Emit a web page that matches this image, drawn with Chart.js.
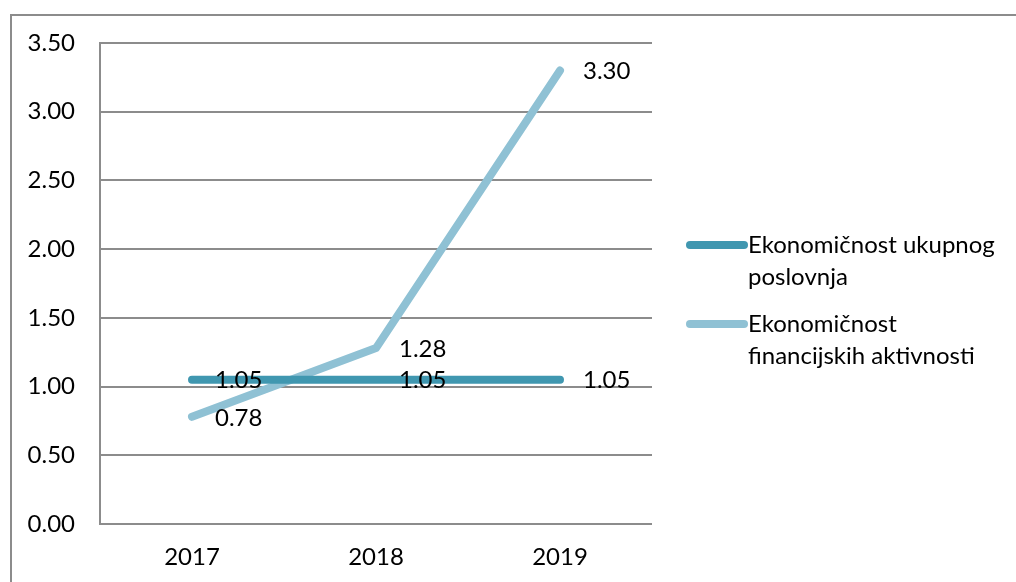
<!DOCTYPE html>
<html>
<head>
<meta charset="utf-8">
<script src="https://cdn.jsdelivr.net/npm/chart.js@4"></script>
<style>
  html, body { margin: 0; padding: 0; background: #fff; overflow: hidden; }
  #wrap { width: 1016px; height: 582px; position: relative; }
</style>
</head>
<body>
<div id="wrap"><canvas id="chart" width="1016" height="582"></canvas></div>
<script>
// data
const years = ['2017', '2018', '2019'];
const ukupnogPoslovanja = [1.05, 1.05, 1.05];
const financijskihAktivnosti = [0.78, 1.28, 3.30];
const seriesNames = [
  ['Ekonomičnost ukupnog', 'poslovnja'],
  ['Ekonomičnost', 'financijskih aktivnosti']
];
const yTicks = [0, 0.5, 1, 1.5, 2, 2.5, 3, 3.5];

const FONT = 'Lato';
const FONT_SIZE = 24;
const GRID = '#8c8c8c';

// outer frame (only top/left visible in the reference)
const framePlugin = {
  id: 'frame',
  beforeDraw(chart) {
    const c = chart.ctx;
    c.save();
    c.strokeStyle = GRID;
    c.lineWidth = 2;
    c.strokeRect(11, 15, 1200, 800);
    c.restore();
  }
};

// value labels to the right of each point
const valueLabels = {
  id: 'valueLabels',
  afterDatasetsDraw(chart) {
    const c = chart.ctx;
    c.save();
    c.font = FONT_SIZE + 'px ' + FONT;
    c.fillStyle = '#000';
    c.textAlign = 'left';
    c.textBaseline = 'middle';
    chart.data.datasets.forEach((ds, i) => {
      chart.getDatasetMeta(i).data.forEach((pt, j) => {
        c.fillText(ds.data[j].toFixed(2), pt.x + 23, pt.y + 1);
      });
    });
    c.restore();
  }
};

// legend on the right with wrapped names
const sideLegend = {
  id: 'sideLegend',
  afterDraw(chart) {
    const c = chart.ctx;
    c.save();
    c.font = FONT_SIZE + 'px ' + FONT;
    c.textBaseline = 'middle';
    c.fillStyle = '#000';
    const starts = [245, 324];
    chart.data.datasets.forEach((ds, i) => {
      const y = starts[i];
      c.strokeStyle = ds.borderColor;
      c.lineWidth = 8;
      c.lineCap = 'round';
      c.beginPath();
      c.moveTo(690, y);
      c.lineTo(744, y);
      c.stroke();
      seriesNames[i].forEach((line, k) => {
        c.fillText(line, 748, y + k * 32);
      });
    });
    c.restore();
  }
};

new Chart(document.getElementById('chart'), {
  type: 'line',
  data: {
    labels: years,
    datasets: [
      {
        label: seriesNames[0].join(' '),
        data: ukupnogPoslovanja,
        borderColor: '#4097b0',
        borderWidth: 8,
        borderCapStyle: 'round',
        borderJoinStyle: 'round',
        pointRadius: 0,
        tension: 0
      },
      {
        label: seriesNames[1].join(' '),
        data: financijskihAktivnosti,
        borderColor: '#8fc1d4',
        borderWidth: 8,
        borderCapStyle: 'round',
        borderJoinStyle: 'round',
        pointRadius: 0,
        tension: 0
      }
    ]
  },
  options: {
    responsive: false,
    animation: false,
    events: [],
    layout: { padding: { top: 43, right: 364, bottom: 0, left: 0 } },
    plugins: {
      legend: { display: false },
      tooltip: { enabled: false }
    },
    scales: {
      x: {
        offset: true,
        grid: { display: false, drawTicks: false },
        border: { display: false },
        ticks: {
          color: '#000',
          padding: 19,
          font: { family: FONT, size: FONT_SIZE }
        },
        afterFit(scale) { scale.height = 58; }
      },
      y: {
        min: 0,
        max: 3.5,
        afterBuildTicks(scale) {
          scale.ticks = yTicks.map(v => ({ value: v }));
        },
        grid: { color: GRID, lineWidth: 2, drawTicks: false },
        border: { color: GRID, width: 2 },
        ticks: {
          color: '#000',
          padding: 25,
          font: { family: FONT, size: FONT_SIZE },
          callback: v => v.toFixed(2)
        },
        afterFit(scale) { scale.width = 100; }
      }
    }
  },
  plugins: [framePlugin, valueLabels, sideLegend]
});
</script>
</body>
</html>
